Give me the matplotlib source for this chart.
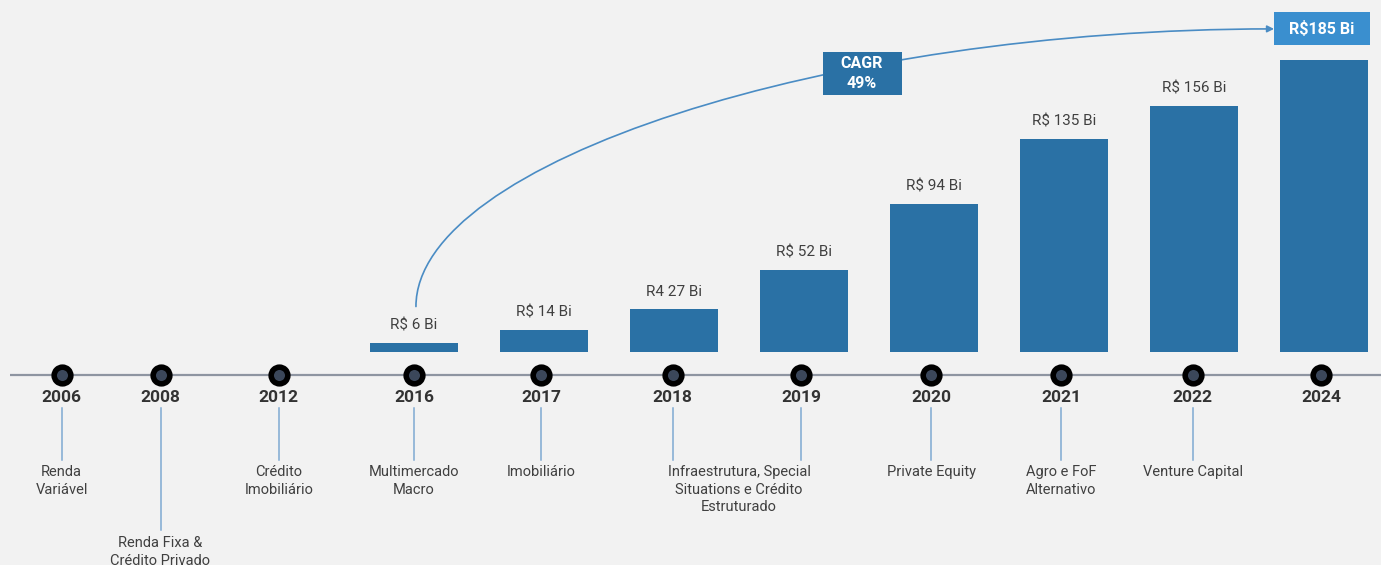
import matplotlib.pyplot as plt
from matplotlib.patches import Rectangle, FancyArrowPatch
from matplotlib.path import Path

# --- data ---
bar_years = ['2016', '2017', '2018', '2019', '2020', '2021', '2022', '2024']
bar_values = [6, 14, 27, 52, 94, 135, 156, 185]
bar_labels = ['R$ 6 Bi', 'R$ 14 Bi', 'R4 27 Bi', 'R$ 52 Bi', 'R$ 94 Bi',
              'R$ 135 Bi', 'R$ 156 Bi', 'R$185 Bi']

timeline_years = ['2006', '2008', '2012', '2016', '2017', '2018', '2019',
                  '2020', '2021', '2022', '2024']
timeline_desc = ['Renda\nVariável', 'Renda Fixa &\nCrédito Privado',
                 'Crédito\nImobiliário', 'Multimercado\nMacro', 'Imobiliário',
                 'Infraestrutura, Special\nSituations e Crédito\nEstruturado',
                 '', 'Private Equity', 'Agro e FoF\nAlternativo',
                 'Venture Capital', '']
cagr_text = 'CAGR\n49%'

# --- layout ---
tl_pos = [-2.71, -1.95, -1.04, 0, 0.98, 1.99, 2.98, 3.98, 4.98, 5.99, 6.98]
desc_x = [-2.71, -1.95, -1.04, 0, 0.98, 2.5, None, 3.98, 4.98, 5.99, None]
bar_x = list(range(len(bar_values)))
PX = 292 / 185.0          # pixels per unit on y


def yp(px):
    # vertical pixel position -> data units
    return (352 - px) / PX


BAR = '#2a71a5'
BOX_LIGHT = '#3a8fcf'
CURVE = '#4a8cc4'
LINK = '#7faad2'
TXT = '#404040'
BG = '#f2f2f2'

plt.rcParams['font.family'] = ['Roboto', 'DejaVu Sans']

fig = plt.figure(figsize=(13.81, 5.65), dpi=100, facecolor=BG)
ax = fig.add_axes([0, 0, 1, 1])
ax.set_facecolor(BG)
ax.set_xlim(-414 / 130, (1381 - 414) / 130)
ax.set_ylim(yp(565), yp(0))
ax.axis('off')

# bars
ax.bar(bar_x, bar_values, width=0.67, color=BAR, zorder=2)
for x, v, lab in zip(bar_x[:-1], bar_values[:-1], bar_labels[:-1]):
    ax.annotate(lab, (x, v), xytext=(0, 12.5), textcoords='offset points',
                ha='center', va='center', fontsize=11, color=TXT)

# last value box
top_x, top_y = bar_x[-1], bar_values[-1] + 19.7
bw, bh = 96 / 130, 33 / PX
ax.add_patch(Rectangle((top_x - 0.015 - bw / 2, top_y - bh / 2), bw, bh,
                       facecolor=BOX_LIGHT, edgecolor='none', zorder=4))
ax.text(top_x - 0.015, top_y, bar_labels[-1], ha='center', va='center',
        fontsize=11.5, color='white', fontweight='bold', zorder=5)

# CAGR curve (quarter-ellipse like Bezier)
x0, y0 = bar_x[0] + 0.015, bar_values[0] + yp(316)
x3, y3 = top_x - 0.015 - bw / 2, top_y
k = 0.52
verts = [(x0, y0), (x0, y0 + k * (y3 - y0)), (x3 - k * (x3 - x0), y3), (x3, y3)]
curve = Path(verts, [Path.MOVETO, Path.CURVE4, Path.CURVE4, Path.CURVE4])
ax.add_patch(FancyArrowPatch(path=curve, arrowstyle='-|>,head_length=0.4,head_width=0.2',
                             mutation_scale=10, color=CURVE, lw=1.2,
                             shrinkA=0, shrinkB=0, zorder=3))

# CAGR box
cx, cy = (862 - 414) / 130, yp(73.5)
cw, ch = 79 / 130, 43 / PX
ax.add_patch(Rectangle((cx - cw / 2, cy - ch / 2), cw, ch,
                       facecolor=BAR, edgecolor='none', zorder=4))
ax.text(cx, cy, cagr_text, ha='center', va='center', fontsize=11.5,
        color='white', fontweight='bold', linespacing=1.45, zorder=5)

# timeline
line_y = yp(375)
ax.plot([-404 / 130, ax.get_xlim()[1]], [line_y, line_y], color='#8e95a1',
        lw=1.6, zorder=1, solid_capstyle='butt')
ax.plot(tl_pos, [line_y] * len(tl_pos), 'o', ms=12, mfc='#3b475a', mec='black',
        mew=4, zorder=3)

for i, (x, yr, desc) in enumerate(zip(tl_pos, timeline_years, timeline_desc)):
    ax.text(x, yp(397), yr, ha='center', va='center', fontsize=12.5,
            fontweight='bold', color='#333333')
    if yr == '2024':
        continue
    low = 530 if yr == '2008' else 460
    ax.plot([x, x], [yp(408), yp(low)], color=LINK, lw=1.1)
    if desc:
        top = 536 if yr == '2008' else 465
        ax.text(desc_x[i], yp(top), desc, ha='center', va='top', fontsize=10.5,
                color=TXT, linespacing=1.32)

fig.savefig('out.png', dpi=100, facecolor=BG)
